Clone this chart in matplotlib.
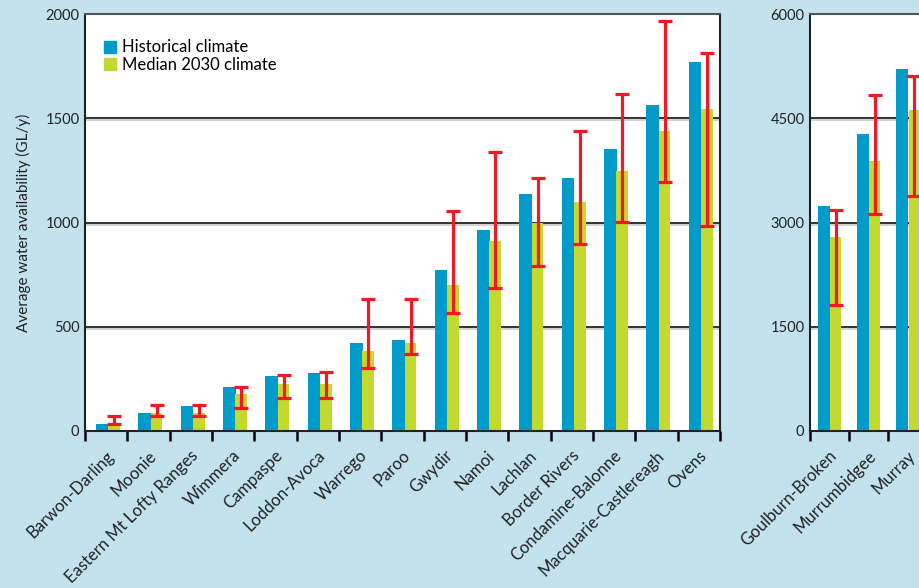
import numpy as np
import matplotlib
matplotlib.use('Agg')
from matplotlib import pyplot as plt
from matplotlib.lines import Line2D
from matplotlib.transforms import ScaledTranslation

plt.rcParams['font.family'] = ['Lato', 'DejaVu Sans']

# basins drawn on the 0-2000 panel
left_basins = ['Barwon-Darling', 'Moonie', 'Eastern Mt Lofty Ranges', 'Wimmera',
               'Campaspe', 'Loddon-Avoca', 'Warrego', 'Paroo', 'Gwydir', 'Namoi',
               'Lachlan', 'Border Rivers', 'Condamine-Balonne',
               'Macquarie-Castlereagh', 'Ovens']
hist_left = [35, 86, 120, 211, 264, 278, 422, 436, 772, 964, 1137, 1213, 1352, 1564, 1770]
med_left = [32, 85, 86, 177, 225, 225, 384, 422, 700, 911, 1000, 1098, 1247, 1439, 1544]
low_left = [32, 70, 70, 109, 157, 157, 300, 369, 564, 684, 790, 895, 1001, 1193, 982]
high_left = [72, 123, 123, 209, 268, 283, 631, 631, 1055, 1336, 1212, 1437, 1615, 1965, 1811]
yticks_left = [0, 500, 1000, 1500, 2000]

# basins drawn on the 0-6000 panel
right_basins = ['Goulburn-Broken', 'Murrumbidgee', 'Murray']
hist_right = [3237, 4273, 5209]
med_right = [2791, 3885, 4623]
low_right = [1808, 3118, 3377]
high_right = [3180, 4830, 5104]
yticks_right = [0, 1500, 3000, 4500, 6000]

BG = '#c2e3ee'
BLUE = '#009bc9'
GREEN = '#c4d92f'
RED = '#ed1c24'
GRAY_TICK = '#6b7275'
OLIVE_TICK = '#9aac4a'

fig = plt.figure(figsize=(9.2, 5.88), dpi=100, facecolor=BG)
ax1 = fig.add_axes([85/920, 1-431/588, 635/920, 417/588])
ax2 = fig.add_axes([810/920, 1-431/588, 157/920, 417/588])


def draw_panel(ax, names, hist, med, low, high, yticks, ymax, offs, ncat, n_gray):
    x = np.arange(len(names))
    ax.set_facecolor('white')
    ax.set_axisbelow(True)
    shadow = ax.get_yaxis_transform() + ScaledTranslation(0, -2/100, fig.dpi_scale_trans)
    for yv in yticks[1:-1]:
        ax.plot([0, 1], [yv, yv], color='#cfcfcf', lw=1.3, zorder=0.4, transform=shadow)
        ax.axhline(yv, color='#222222', lw=1.3, zorder=0.5)
    ax.bar(x + offs[0], hist, width=0.30, color=BLUE, zorder=2)
    ax.bar(x + offs[1], med, width=0.28, color=GREEN, zorder=2)
    med = np.array(med)
    yerr = [med - np.array(low), np.array(high) - med]
    ax.errorbar(x + offs[1], med, yerr=yerr, fmt='none', ecolor=RED,
                elinewidth=2.3, capsize=4.8, capthick=2.3, zorder=3)
    ax.set_xlim(-0.5, ncat - 0.5)
    ax.set_ylim(0, ymax)
    ax.set_yticks(yticks)
    ax.set_yticklabels([str(v) for v in yticks], fontsize=10.5, color='#222222')
    ax.tick_params(axis='y', length=0, pad=4)
    ax.set_xticks(x)
    ax.set_xticklabels(names, rotation=45, ha='right', va='center',
                       rotation_mode='anchor', fontsize=12, color='#222222')
    ax.tick_params(axis='x', which='major', length=0, pad=16)
    off = ScaledTranslation(5/100, 0, fig.dpi_scale_trans)
    for lab in ax.get_xticklabels():
        lab.set_transform(lab.get_transform() + off)
    ax.set_xticks(np.arange(ncat + 1) - 0.5, minor=True)
    ax.tick_params(axis='x', which='minor', length=7, width=1.8, direction='out')
    for i, t in enumerate(ax.xaxis.get_minor_ticks()):
        t.tick1line.set_color(GRAY_TICK if i < n_gray else OLIVE_TICK)
    for s in ax.spines.values():
        s.set_color('#222222')
        s.set_linewidth(1.5)
    ax.spines['top'].set_color('#555555')


draw_panel(ax1, left_basins, hist_left, med_left, low_left, high_left,
           yticks_left, 2000, (-0.09, 0.19), len(left_basins), 9)
draw_panel(ax2, right_basins, hist_right, med_right, low_right, high_right,
           yticks_right, 6000, (-0.15, 0.15), 4, 1)

ax1.set_ylabel('Average water availability (GL/y)', fontsize=11, color='#222222',
               labelpad=10)

handles = [Line2D([], [], marker='s', ls='none', markersize=8, color=BLUE),
           Line2D([], [], marker='s', ls='none', markersize=8, color=GREEN)]
ax1.legend(handles, ['Historical climate', 'Median 2030 climate'], loc='upper left',
           bbox_to_anchor=(0.003, 0.975), frameon=False, fontsize=12,
           handletextpad=0.2, labelspacing=0.1, handlelength=1.0)

fig.savefig('out.png', dpi=100, facecolor=BG)
